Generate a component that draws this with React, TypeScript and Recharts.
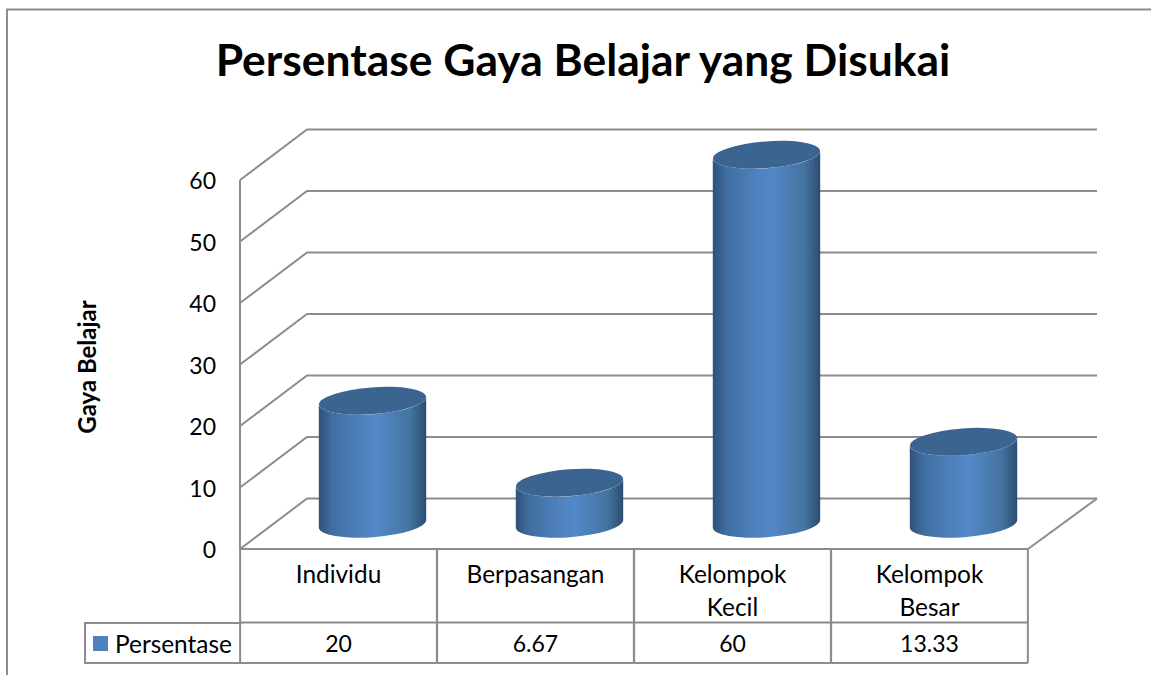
import React from "react";
import { BarChart, Bar, XAxis, YAxis, CartesianGrid, Legend } from "recharts";

const categories = ["Individu", "Berpasangan", "Kelompok Kecil", "Kelompok Besar"];
const persentase = [20, 6.67, 60, 13.33];
const yTicks = [0, 10, 20, 30, 40, 50, 60];
const seriesName = "Persentase";
const titleText = "Persentase Gaya Belajar yang Disukai";
const yTitle = "Gaya Belajar";

const rows = categories.map((name, i) => ({ name, value: persentase[i] }));

const FONT = "Lato, 'Open Sans', sans-serif";
const LINE = "#8c8c8c";
const BLUE = "#4f81bd";
const W = 1151;
const H = 675;
const DX = 67;
const DY = 50.5;
const BAND = 196.75;
const RX = 53.7;
const RY = 13.4;
const TILT = 4;
const AXIS_Y = 549;

function GridLine(p: any) {
  const { x1, x2, y1 } = p;
  const isFloor = Math.abs(y1 - AXIS_Y) < 1;
  return (
    <g key={p.key ?? y1}>
      <polyline
        points={`${x1},${y1} ${x1 + DX},${y1 - DY} ${x2 + DX + 2},${y1 - DY}`}
        fill="none"
        stroke={LINE}
        strokeWidth={2}
      />
      {isFloor && <line x1={x2} y1={y1} x2={x2 + DX + 2} y2={y1 - DY} stroke={LINE} strokeWidth={2} />}
    </g>
  );
}

function Cylinder(p: any) {
  const { x, y, width, height } = p;
  if (height == null) return null;
  const cx = x + width / 2 + DX / 2 + 0.5;
  const top = y - DY / 2;
  const bot = y + height - DY / 2;
  const lx = cx - RX;
  const rx = cx + RX;
  const rot = (-Math.asin(TILT / RX) * 180) / Math.PI;
  return (
    <g>
      <path
        d={`M${lx},${top + TILT} L${lx},${bot + TILT} A${RX},${RY} ${rot} 0 0 ${rx},${bot - TILT} L${rx},${top - TILT} A${RX},${RY} ${rot} 0 1 ${lx},${top + TILT} Z`}
        fill="url(#cylBody)"
      />
      <ellipse cx={cx} cy={top} rx={RX} ry={RY} transform={`rotate(${rot} ${cx} ${top})`} fill="#3c6491" />
    </g>
  );
}

function CategoryTick(p: any) {
  const { x, payload } = p;
  const lines = String(payload.value).split(" ");
  const left = x - BAND / 2;
  const right = x + BAND / 2;
  return (
    <g fontFamily={FONT} fontSize={24.4} fill="#000">
      <line x1={left} y1={AXIS_Y} x2={left} y2={663} stroke={LINE} strokeWidth={2} />
      <line x1={right} y1={AXIS_Y} x2={right} y2={663} stroke={LINE} strokeWidth={2} />
      <line x1={left} y1={622.5} x2={right} y2={622.5} stroke={LINE} strokeWidth={2} />
      <line x1={left} y1={663} x2={right} y2={663} stroke={LINE} strokeWidth={2} />
      {lines.map((t, i) => (
        <text key={t} x={x} y={583 + i * 33} textAnchor="middle">
          {t}
        </text>
      ))}
      <text x={x} y={652} textAnchor="middle" fontSize={23}>
        {persentase[payload.index]}
      </text>
    </g>
  );
}

function ValueTick(p: any) {
  const { y, payload } = p;
  return (
    <text x={216} y={y + 9} textAnchor="end" fontFamily={FONT} fontSize={23} fill="#000">
      {payload.value}
    </text>
  );
}

function LegendCell() {
  return (
    <div
      style={{
        boxSizing: "border-box",
        width: 158,
        height: 42,
        border: `2px solid ${LINE}`,
        borderRight: "none",
        display: "flex",
        alignItems: "center",
        fontFamily: FONT,
        fontSize: 24.4,
        color: "#000",
        paddingLeft: 7,
      }}
    >
      <span style={{ width: 15, height: 15, background: BLUE, marginRight: 7, display: "inline-block", flex: "none" }} />
      {seriesName}
    </div>
  );
}

export default function App() {
  return (
    <div style={{ position: "absolute", left: 0, top: 0, width: W, height: H, background: "#fff" }}>
      <BarChart
        width={W}
        height={H}
        data={rows}
        barSize={107}
        margin={{ left: 200, right: 123, top: 180, bottom: 96 }}
      >
        <defs>
          <linearGradient id="cylBody" x1="0" y1="0" x2="1" y2="0">
            <stop offset="0" stopColor="#2e5177" />
            <stop offset="0.12" stopColor="#3f6d9f" />
            <stop offset="0.35" stopColor="#4c7eb9" />
            <stop offset="0.55" stopColor="#5388c9" />
            <stop offset="0.85" stopColor="#44749f" />
            <stop offset="1" stopColor="#2b4c72" />
          </linearGradient>
        </defs>
        <path d={`M7,${H} V9.5 H${W}`} fill="none" stroke={LINE} strokeWidth={2} />
        <text x={583} y={76} textAnchor="middle" fontFamily={FONT} fontWeight={700} fontSize={44.4} fill="#000">
          {titleText}
        </text>
        <text
          transform="translate(96 367) rotate(-90)"
          textAnchor="middle"
          fontFamily={FONT}
          fontWeight={700}
          fontSize={24}
          fill="#000"
        >
          {yTitle}
        </text>
        <CartesianGrid vertical={false} horizontal={GridLine as any} />
        <XAxis
          dataKey="name"
          interval={0}
          height={30}
          tickLine={false}
          axisLine={{ stroke: LINE, strokeWidth: 2 }}
          tick={CategoryTick as any}
        />
        <YAxis
          width={40}
          domain={[0, 60]}
          ticks={yTicks}
          tickLine={false}
          axisLine={{ stroke: LINE, strokeWidth: 2 }}
          tick={ValueTick as any}
        />
        <Bar dataKey="value" name={seriesName} fill={BLUE} shape={Cylinder as any} isAnimationActive={false} />
        <Legend
          layout="horizontal"
          verticalAlign="middle"
          align="center"
          content={LegendCell as any}
          wrapperStyle={{ position: "absolute", left: 84, top: 622, width: 158, height: 42 }}
        />
      </BarChart>
    </div>
  );
}
